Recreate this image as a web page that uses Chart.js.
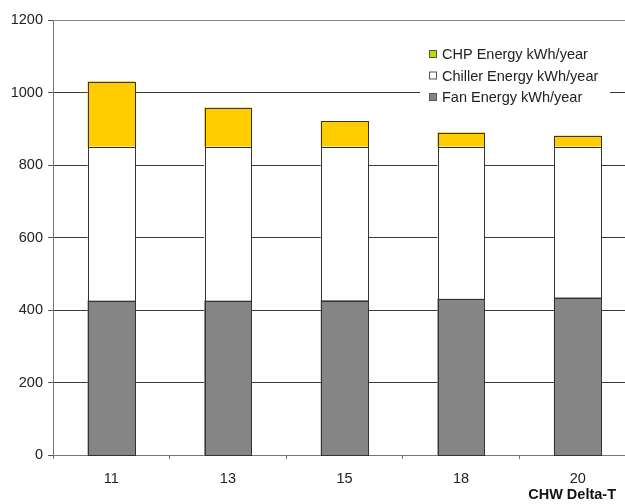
<!DOCTYPE html>
<html>
<head>
<meta charset="utf-8">
<script src="https://cdn.jsdelivr.net/npm/chart.js@4"></script>
<style>
  html, body { margin: 0; padding: 0; background: #fff; overflow: hidden; }
  #wrap { width: 625px; height: 504px; overflow: hidden; position: relative; }
  #wrap canvas { position: absolute; left: 0; top: 0; }
</style>
</head>
<body>
<div id="wrap"><canvas id="c" width="645" height="504"></canvas></div>
<script>
// CHW Delta-T categories
const deltaT = ['11', '13', '15', '18', '20'];
// Annual energy components, kWh/year
const fanEnergy     = [425, 425, 426, 430, 434];
const chillerEnergy = [425, 425, 424, 420, 416];
const chpEnergy     = [180, 107, 70, 39, 30];
const yTicks = [0, 200, 400, 600, 800, 1000, 1200];

const FONT = '"Liberation Sans", Arial, sans-serif';

// Crisp 1px outlines around every stacked segment
const barOutlines = {
  id: 'barOutlines',
  afterDatasetsDraw(chart) {
    const ctx = chart.ctx;
    ctx.save();
    ctx.strokeStyle = '#333';
    ctx.lineWidth = 1;
    chart.data.datasets.forEach((d, di) => {
      chart.getDatasetMeta(di).data.forEach(el => {
        const p = el.getProps(['x', 'y', 'base', 'width'], true);
        const l = Math.round(p.x - p.width / 2) + 0.5;
        const r = Math.round(p.x + p.width / 2) + 0.5;
        const t = Math.round(p.y) + 0.5;
        const b = Math.round(p.base) + 0.5;
        ctx.strokeRect(l, t, r - l, b - t);
      });
    });
    ctx.restore();
  }
};

// Legend box drawn inside the plot, top right, newest series first
const insideLegend = {
  id: 'insideLegend',
  afterDatasetsDraw(chart) {
    const ctx = chart.ctx;
    const x0 = 420, y0 = 42, w = 190, h = 64;
    ctx.save();
    ctx.fillStyle = '#fff';
    ctx.fillRect(x0, y0, w, h);
    ctx.font = '14.5px ' + FONT;
    ctx.textBaseline = 'middle';
    const ds = chart.data.datasets.slice().reverse();
    ds.forEach((d, i) => {
      const cy = 54 + i * 21.5;
      ctx.fillStyle = d.legendColor || d.backgroundColor;
      ctx.fillRect(429.5, cy - 3.5, 7, 7);
      ctx.strokeStyle = '#555';
      ctx.lineWidth = 1;
      ctx.strokeRect(429.5, cy - 3.5, 7, 7);
      ctx.fillStyle = '#222';
      ctx.fillText(d.label, 442, cy + 1);
    });
    ctx.restore();
  }
};

// X axis caption at the lower right
const axisCaption = {
  id: 'axisCaption',
  afterDraw(chart) {
    const ctx = chart.ctx;
    ctx.save();
    ctx.font = 'bold 14.5px ' + FONT;
    ctx.fillStyle = '#111';
    ctx.textAlign = 'right';
    ctx.textBaseline = 'middle';
    ctx.fillText('CHW Delta-T', 616, 495);
    ctx.restore();
  }
};

new Chart(document.getElementById('c'), {
  type: 'bar',
  data: {
    labels: deltaT,
    datasets: [
      { label: 'Fan Energy kWh/year', data: fanEnergy, backgroundColor: '#858585', legendColor: '#858585' },
      { label: 'Chiller Energy kWh/year', data: chillerEnergy, backgroundColor: '#ffffff', legendColor: '#ffffff' },
      { label: 'CHP Energy kWh/year', data: chpEnergy, backgroundColor: '#ffcc00', legendColor: '#c4d800' }
    ]
  },
  options: {
    responsive: false,
    animation: false,
    layout: { padding: { top: 20, right: 9, left: 0, bottom: 0 } },
    datasets: {
      bar: {
        borderWidth: 0,
        inflateAmount: 0.5,
        categoryPercentage: 1,
        barPercentage: 0.4
      }
    },
    plugins: { legend: { display: false }, tooltip: { enabled: false } },
    scales: {
      x: {
        stacked: true,
        offset: true,
        grid: { drawOnChartArea: false, offset: true, drawTicks: true, tickLength: 4, color: '#777' },
        border: { color: '#777', width: 1 },
        ticks: { font: { family: FONT, size: 14.5 }, color: '#222', padding: 11 },
        afterFit(s) { s.height = 49; }
      },
      y: {
        stacked: true,
        min: 0,
        max: 1200,
        afterBuildTicks(s) { s.ticks = yTicks.map(v => ({ value: v })); },
        grid: {
          color: c => (c.tick && c.tick.value === 1200) ? '#8a8a8a' : '#3a3a3a',
          tickColor: '#555',
          tickLength: 5,
          lineWidth: 1
        },
        border: { color: '#777', width: 1 },
        ticks: {
          font: { family: FONT, size: 14.5 },
          color: '#222',
          padding: 5,
          callback: v => String(v)
        },
        afterFit(s) { s.width = 53; }
      }
    }
  },
  plugins: [barOutlines, insideLegend, axisCaption]
});
</script>
</body>
</html>
